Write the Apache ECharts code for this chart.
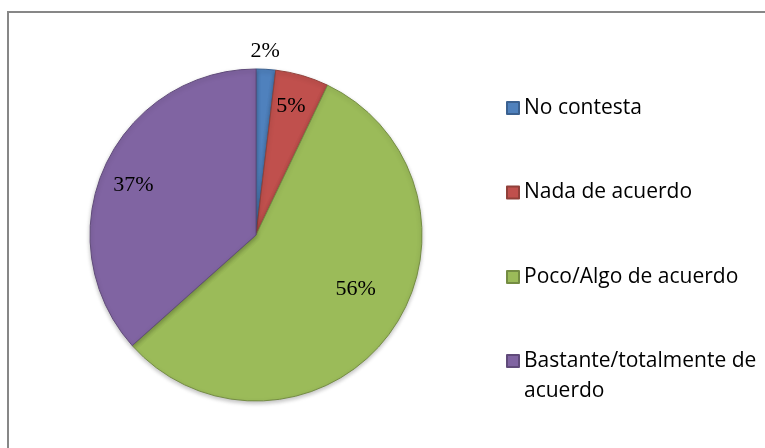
<!DOCTYPE html>
<html>
<head>
<meta charset="utf-8">
<script src="https://cdn.jsdelivr.net/npm/echarts@6/dist/echarts.min.js"></script>
<style>
  html, body { margin: 0; padding: 0; background: #fff; }
  #main { width: 765px; height: 448px; }
</style>
</head>
<body>
<div id="main"></div>
<script>
// categories and values
const categories = ['No contesta', 'Nada de acuerdo', 'Poco/Algo de acuerdo', 'Bastante/totalmente de acuerdo'];
const values = [1.9, 5.2, 56.3, 36.6];

// style
const fills = ['#4F81BD', '#C0504D', '#9BBB59', '#8064A2'];
const edges = ['#3B6190', '#90403A', '#748C43', '#604B7A'];
// nudges of each label from the default inside spot
const labelNudge = [[4, -98], [11, -46], [31, 3], [-44, -15]];

let myChart = echarts.init(document.getElementById('main'));

let pieData = categories.map(function (name, i) {
  return {
    name: name,
    value: values[i],
    itemStyle: { color: fills[i], borderColor: edges[i] }
  };
});

let legendText = {
  fontFamily: 'Open Sans',
  fontSize: 21,
  color: '#000'
};

let option = {
  animation: false,
  graphic: [
    {
      type: 'rect',
      shape: { x: 8, y: 12, width: 800, height: 500 },
      style: { fill: 'none', stroke: '#878787', lineWidth: 2 },
      z: -1
    }
  ],
  legend: [
    {
      orient: 'vertical',
      left: 506,
      top: 96,
      padding: 0,
      itemWidth: 12,
      itemHeight: 12,
      itemGap: 60.5,
      icon: 'rect',
      data: categories.slice(0, 3),
      textStyle: Object.assign({ lineHeight: 24 }, legendText)
    },
    {
      orient: 'vertical',
      left: 506,
      top: 316,
      padding: 0,
      itemWidth: 12,
      itemHeight: 12,
      icon: 'rect',
      data: categories.slice(3),
      // blank first line keeps the box beside the first text line
      formatter: function () {
        return '\nBastante/totalmente de\nacuerdo';
      },
      textStyle: Object.assign({ lineHeight: 30 }, legendText)
    }
  ],
  series: [
    {
      type: 'pie',
      center: [256, 235],
      radius: 166,
      startAngle: 90,
      clockwise: true,
      silent: true,
      itemStyle: {
        borderWidth: 1,
        shadowBlur: 4,
        shadowOffsetY: 2,
        shadowColor: 'rgba(0,0,0,0.25)'
      },
      label: {
        show: true,
        position: 'inside',
        fontFamily: 'Liberation Serif',
        fontSize: 22,
        color: '#000',
        formatter: function (p) {
          return Math.round(p.percent) + '%';
        }
      },
      labelLine: { show: false },
      labelLayout: function (p) {
        return { dx: labelNudge[p.dataIndex][0], dy: labelNudge[p.dataIndex][1] };
      },
      data: pieData
    }
  ]
};

myChart.setOption(option);
</script>
</body>
</html>
